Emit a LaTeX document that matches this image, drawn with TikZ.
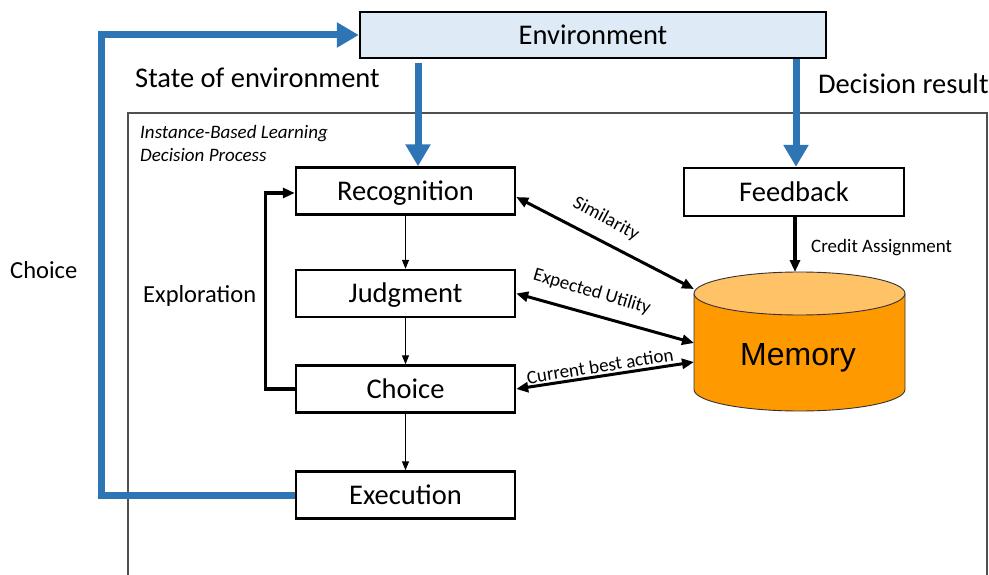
\documentclass[tikz,border=0pt]{standalone}
\usepackage{fontspec}
\setmainfont{Carlito}
\newfontfamily\memfont{Liberation Sans}
\usetikzlibrary{arrows.meta,calc}
\definecolor{envblue}{HTML}{2E75B6}
\definecolor{envfill}{HTML}{DEEBF7}
\definecolor{memorange}{HTML}{FF9900}
\definecolor{memlight}{HTML}{FFC266}
\definecolor{framegray}{HTML}{505050}
\begin{document}
\begin{tikzpicture}[x=1pt,y=-1pt,
  procbox/.style={draw=black, line width=2.4pt, minimum width=219pt, minimum height=47pt, inner sep=0pt,
    text height=20pt, text depth=1.6pt, font=\fontsize{28.5}{34}\selectfont},
  bigtext/.style={inner sep=0pt, font=\fontsize{28.5}{34}\selectfont},
  midtext/.style={inner sep=0pt, font=\fontsize{24.5}{30}\selectfont},
  smalltext/.style={inner sep=0pt, font=\fontsize{19}{23}\selectfont},
  bluearrow/.style={draw=envblue, line width=7pt, line join=miter, -{Triangle[length=22pt,width=24pt]}},
  thinarrow/.style={draw=black, line width=1.3pt, -{Triangle[length=9pt,width=7pt]}},
  thickarrow/.style={draw=black, line width=3.2pt, line join=miter, -{Triangle[length=12pt,width=10pt]}},
  dblarrow/.style={draw=black, line width=3pt, {Triangle[length=12pt,width=10pt]}-{Triangle[length=12pt,width=10pt]}},
]
\useasboundingbox (0,0) rectangle (989,575);

% outer frame
\draw[line width=1.3pt, draw=framegray] (128,590) -- (128,113) -- (987,113) -- (987,590);

% boxes
\node[draw=black, line width=2.4pt, fill=envfill, minimum width=466pt, minimum height=46pt,
  text height=20pt, text depth=1.6pt, bigtext] (env) at (593,35) {Environment};
\node[procbox] (rec) at (405.5,191) {Recognition};
\node[procbox] (jud) at (405.5,293.5) {Judgment};
\node[procbox] (cho) at (405.5,389) {Choice};
\node[procbox] (exe) at (405.5,495) {Execution};
\node[procbox, minimum width=220pt, minimum height=48pt] (fb) at (794,192) {Feedback};

% memory cylinder
\filldraw[fill=memorange, draw=black!80, line width=0.9pt] (694,293.5) -- (694,389.5)
  arc[start angle=180, end angle=0, x radius=105.5, y radius=21.5] -- (905,293.5);
\filldraw[fill=memlight, draw=black!80, line width=0.9pt] (799.5,293.5) ellipse[x radius=105.5, y radius=21.5];
\node[inner sep=0pt, anchor=base, font=\memfont\fontsize{32}{38}\selectfont] (mem) at (798,365) {Memory};
\coordinate (memS) at (694,289);
\coordinate (memU) at (694,343);
\coordinate (memC) at (694,362);
\coordinate (memT) at (795,272);
\coordinate (stateTop) at (418,63);

% texts
\node[bigtext, anchor=base west] (stateL) at (135,88) {State of environment};
\node[bigtext, anchor=base west] (decL) at (818,94) {Decision result};
\node[midtext, anchor=base west] (choiceL) at (10,278) {Choice};
\node[midtext, anchor=base west] (explL) at (143,302) {Exploration};
\node[smalltext, anchor=base west] (creditL) at (811,253) {Credit Assignment};
\node[smalltext, anchor=base west, font=\fontsize{19}{23}\selectfont\itshape] (iblA) at (140,139)
  {Instance-Based Learning};
\node[smalltext, anchor=base west, font=\fontsize{19}{23}\selectfont\itshape] (iblB) at (140,162)
  {Decision Process};

% blue arrows
\draw[bluearrow] (exe.west) -- ++(-193,0) |- (env.west);
\draw[bluearrow] (stateTop) -- (stateTop |- rec.north);
\draw[bluearrow] ([xshift=2pt]fb.north |- env.south) -- ([xshift=2pt]fb.north);

% process arrows
\draw[thinarrow] (rec.south) -- (jud.north);
\draw[thinarrow] (jud.south) -- (cho.north);
\draw[thinarrow] (cho.south) -- (exe.north);
\draw[thickarrow] (cho.west) -- ++(-29,0) |- ([yshift=-2pt]rec.west);
\draw[thickarrow] ([xshift=1pt]fb.south) -- (memT);

% memory links
\draw[dblarrow] ([yshift=-6pt]rec.east) -- (memS);
\draw[dblarrow] (jud.east) -- (memU);
\draw[dblarrow] (cho.east) -- (memC);
\node[smalltext, rotate=-28] (simL) at (606,219) {Similarity};
\node[smalltext, rotate=-16.5] (euL) at (592,292) {Expected Utility};
\node[smalltext, rotate=9] (cbL) at (600,366) {Current best action};
\end{tikzpicture}
\end{document}
